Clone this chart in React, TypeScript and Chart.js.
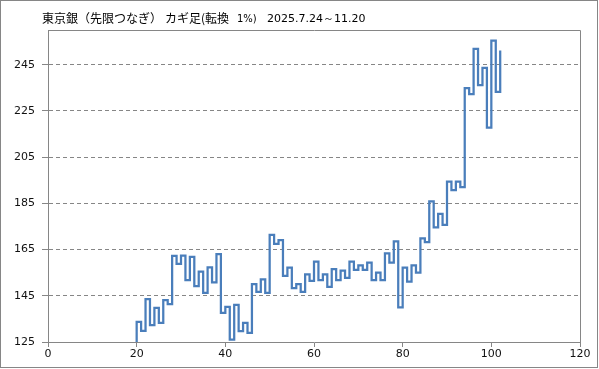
import React, { useEffect, useRef } from "react";
import { Chart, registerables } from "chart.js";

Chart.register(...registerables);

// ---- text ----
const titleMain = "東京銀（先限つなぎ）";
const titleKagi = "カギ足(転換";
const titlePct = "1%)";
const titleDate = "2025.7.24～11.20";

// ---- data: kagi line levels, one vertical move per step starting at x = 20 ----
const startX = 20;
const startLevel = 125;
const levels = [
  133.7, 129.8, 143.6, 132.3, 139.8, 133.3, 143.1, 141.4, 162.3, 158.8, // 20-29
  162.4, 151.8, 161.8, 149.2, 155.4, 146.3, 157.3, 150.8, 163.0, 137.6, // 30-39
  140.2, 126.0, 141.1, 129.7, 133.3, 128.9, 150.0, 146.7, 152.1, 146.3, // 40-49
  171.3, 167.5, 169.1, 153.6, 157.2, 148.3, 150.0, 146.7, 154.3, 151.4, // 50-59
  159.8, 151.8, 154.3, 148.9, 156.5, 151.8, 155.9, 152.8, 159.8, 156.2, // 60-69
  158.2, 156.2, 159.3, 151.8, 155.0, 151.8, 163.4, 159.3, 168.5, 140.0, // 70-79
  157.2, 151.1, 158.2, 155.0, 169.8, 168.2, 185.9, 174.6, 180.4, 175.7, // 80-89
  194.4, 190.7, 194.4, 192.0, 234.9, 232.3, 251.8, 236.2, 243.6, 217.8, // 90-99
  255.4, 233.2, 251.1, // 100-102
];

const xTicks = [0, 20, 40, 60, 80, 100, 120];
const yTicks = [125, 145, 165, 185, 205, 225, 245];
const xMin = 0;
const xMax = 120;
const yMin = 125;
const yMax = 260;

function buildPoints() {
  const pts: { x: number; y: number }[] = [{ x: startX, y: startLevel }];
  levels.forEach((lv, i) => {
    const x = startX + i;
    pts.push({ x, y: lv });
    if (i < levels.length - 1) pts.push({ x: x + 1, y: lv });
  });
  return pts;
}

const GRAY = "#868686";
const LINE = "#4a7ebb";

const decorPlugin = {
  id: "decor",
  afterDraw(chart: any) {
    const { ctx, chartArea } = chart;
    ctx.save();
    // plot area border
    ctx.strokeStyle = GRAY;
    ctx.lineWidth = 1;
    ctx.beginPath();
    ctx.moveTo(Math.round(chartArea.left) + 0.5, Math.round(chartArea.top) + 0.5);
    ctx.lineTo(Math.round(chartArea.right) + 0.5, Math.round(chartArea.top) + 0.5);
    ctx.lineTo(Math.round(chartArea.right) + 0.5, Math.round(chartArea.bottom) + 0.5);
    ctx.stroke();
    // outer border
    ctx.strokeRect(0.5, 0.5, 597, 367);
    // title
    ctx.fillStyle = "#000";
    ctx.textBaseline = "middle";
    ctx.textAlign = "left";
    ctx.font = "12px 'Noto Sans CJK JP'";
    ctx.fillText(titleMain, 42, 18.5);
    ctx.fillText(titleKagi, 165, 18.5);
    ctx.font = "10px 'DejaVu Sans'";
    ctx.fillText(titlePct, 237, 19);
    ctx.font = "11px 'DejaVu Sans'";
    ctx.fillText(titleDate, 267, 19);
    ctx.restore();
  },
};

export default function App() {
  const ref = useRef<HTMLCanvasElement | null>(null);
  useEffect(() => {
    document.body.style.margin = "0";
    const canvas = ref.current!;
    const tickFont = { family: "'DejaVu Sans'", size: 11 };
    const chart = new Chart(canvas, {
      type: "scatter",
      data: {
        datasets: [
          {
            data: buildPoints(),
            showLine: true,
            borderColor: LINE,
            borderWidth: 2.25,
            pointRadius: 0,
            pointHoverRadius: 0,
            fill: false,
            tension: 0,
            borderJoinStyle: "miter",
          } as any,
        ],
      },
      options: {
        responsive: false,
        devicePixelRatio: 1,
        animation: false,
        events: [],
        layout: { padding: { left: 0, right: 19, top: 30, bottom: 0 } },
        plugins: {
          legend: { display: false },
          title: { display: false },
          tooltip: { enabled: false },
        },
        scales: {
          x: {
            type: "linear",
            min: xMin,
            max: xMax,
            afterBuildTicks: (s: any) => {
              s.ticks = xTicks.map((v) => ({ value: v }));
            },
            afterFit: (s: any) => {
              s.height = 27;
            },
            grid: {
              drawOnChartArea: false,
              drawTicks: true,
              tickLength: 5,
              tickColor: GRAY,
              color: GRAY,
            },
            border: { color: GRAY, width: 1 },
            ticks: {
              font: tickFont,
              color: "#111",
              padding: 1,
              maxRotation: 0,
              autoSkip: false,
            },
          },
          y: {
            type: "linear",
            min: yMin,
            max: yMax,
            afterBuildTicks: (s: any) => {
              s.ticks = yTicks.map((v) => ({ value: v }));
            },
            afterFit: (s: any) => {
              s.width = 48;
            },
            grid: {
              drawOnChartArea: true,
              drawTicks: true,
              tickLength: 6,
              tickColor: GRAY,
              color: GRAY,
              tickBorderDash: [],
            },
            border: { color: GRAY, width: 1, dash: [4, 3] },
            ticks: {
              font: tickFont,
              color: "#111",
              padding: 7,
              autoSkip: false,
            },
          },
        },
      } as any,
      plugins: [decorPlugin],
    });
    return () => chart.destroy();
  }, []);
  return (
    <div style={{ position: "absolute", left: 0, top: 0, width: 599, height: 369, background: "#fff" }}>
      <canvas ref={ref} width={599} height={369} style={{ width: 599, height: 369, display: "block" }} />
    </div>
  );
}
